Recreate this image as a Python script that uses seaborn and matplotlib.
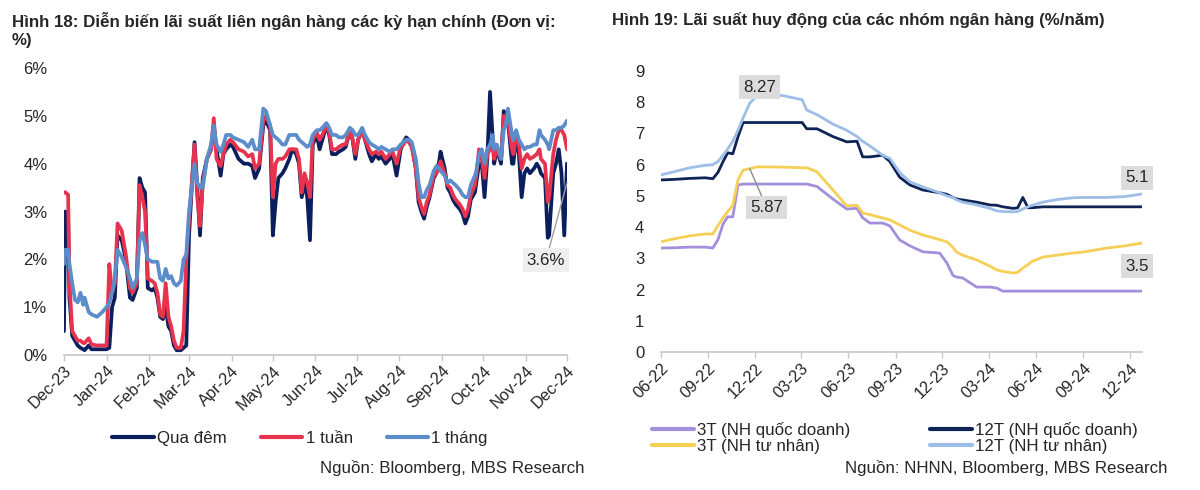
import pandas as pd
import matplotlib
matplotlib.use('Agg')
import matplotlib.pyplot as plt
from matplotlib.lines import Line2D
from matplotlib.ticker import FuncFormatter
import seaborn as sns

sns.set_theme(style='white')
plt.rcParams['font.family'] = ['Liberation Sans', 'DejaVu Sans']

# ---- Hình 18: lãi suất liên ngân hàng (ngày tính từ 13/12/2023) ----
ngay_lnh = [
    0, 1, 3, 4, 6, 8, 10, 12, 14, 15,
    18, 20, 24, 28, 31, 33, 35, 37, 39, 42,
    45, 48, 50, 53, 55, 57, 59, 61, 64, 66,
    68, 70, 72, 74, 76, 78, 80, 82, 85, 87,
    89, 91, 93, 95, 97, 99, 101, 104, 107, 109,
    111, 114, 116, 118, 121, 123, 127, 131, 134, 137,
    139, 142, 145, 147, 150, 152, 154, 156, 159, 161,
    164, 166, 169, 171, 173, 175, 177, 179, 181, 184,
    186, 188, 191, 193, 195, 198, 200, 203, 205, 208,
    210, 212, 214, 217, 219, 222, 224, 227, 229, 231,
    234, 237, 239, 242, 245, 247, 249, 251, 253, 256,
    258, 260, 262, 264, 266, 269, 271, 273, 274, 277,
    279, 281, 283, 285, 288, 290, 292, 294, 296, 299,
    300, 302, 304, 306, 308, 310, 312, 313, 315, 318,
    320, 322, 323, 326, 327, 329, 331, 333, 335, 337,
    339, 342, 344, 346, 347, 350, 352, 353, 356, 358,
    360, 362, 364, 366]

qua_dem = [
    0.5, 3.0, 2.9, 1.2, 0.4, 0.3, 0.2, 0.15, 0.12, 0.1,
    0.2, 0.12, 0.12, 0.12, 0.12, 0.15, 1.0, 1.2, 2.5, 2.4,
    2.0, 1.2, 1.15, 1.4, 3.7, 3.5, 3.4, 1.4, 1.35, 1.4,
    1.2, 0.8, 0.75, 1.0, 0.6, 0.5, 0.2, 0.1, 0.1, 0.15,
    0.2, 2.5, 3.5, 4.45, 3.5, 2.5, 3.7, 4.1, 4.3, 4.8,
    4.3, 3.75, 4.2, 4.3, 4.4, 4.35, 4.1, 4.0, 4.0, 3.95,
    3.7, 3.9, 4.8, 4.9, 4.7, 2.5, 3.2, 3.7, 3.8, 3.9,
    4.1, 4.3, 4.2, 4.0, 3.3, 3.6, 3.3, 2.4, 4.4, 4.6,
    4.3, 4.5, 4.8, 4.6, 4.2, 4.2, 4.25, 4.3, 4.35, 4.7,
    4.5, 4.1, 4.5, 4.7, 4.5, 4.2, 4.05, 4.2, 4.1, 4.15,
    4.0, 4.1, 4.2, 3.75, 4.3, 4.45, 4.55, 4.5, 4.4, 3.9,
    3.2, 3.0, 2.85, 3.1, 3.3, 3.7, 3.8, 4.05, 4.25, 3.9,
    3.5, 3.4, 3.25, 3.15, 3.05, 2.95, 2.75, 2.9, 3.25, 3.4,
    3.6, 4.0, 4.0, 3.3, 4.1, 5.5, 4.5, 4.0, 4.3, 4.0,
    5.1, 4.8, 4.9, 4.0, 4.0, 4.6, 4.2, 3.3, 3.8, 3.9,
    3.8, 3.9, 4.0, 3.9, 3.8, 3.7, 2.45, 2.5, 3.8, 4.0,
    4.3, 3.8, 2.5, 4.0]

mot_tuan = [
    3.4, 3.4, 3.35, 1.5, 0.5, 0.4, 0.3, 0.3, 0.25, 0.25,
    0.35, 0.22, 0.2, 0.2, 0.2, 1.9, 1.3, 1.5, 2.75, 2.6,
    2.1, 1.4, 1.3, 1.5, 3.55, 3.3, 3.0, 1.6, 1.55, 1.5,
    1.3, 0.85, 0.8, 1.5, 0.8, 0.6, 0.3, 0.15, 0.15, 0.5,
    2.0, 2.8, 3.6, 4.4, 3.3, 2.7, 3.6, 4.1, 4.3, 4.95,
    4.1, 3.95, 4.2, 4.4, 4.5, 4.45, 4.3, 4.25, 4.15, 4.2,
    3.9, 4.0, 4.9, 5.0, 4.8, 3.3, 4.0, 4.1, 4.1, 4.15,
    4.3, 4.3, 4.3, 4.1, 3.4, 3.8, 3.6, 3.3, 4.5, 4.65,
    4.5, 4.6, 4.8, 4.65, 4.3, 4.3, 4.35, 4.4, 4.4, 4.7,
    4.5, 4.2, 4.5, 4.7, 4.5, 4.3, 4.2, 4.25, 4.2, 4.25,
    4.1, 4.2, 4.25, 4.0, 4.35, 4.4, 4.5, 4.45, 4.35, 3.9,
    3.3, 3.1, 2.95, 3.2, 3.35, 3.75, 3.8, 3.95, 4.05, 3.8,
    3.55, 3.5, 3.35, 3.25, 3.15, 3.05, 2.9, 3.05, 3.35, 3.55,
    3.75, 4.3, 4.1, 3.7, 4.2, 4.3, 4.5, 4.1, 4.3, 4.1,
    5.0, 4.9, 4.9, 4.3, 4.2, 4.6, 4.4, 3.9, 4.1, 4.2,
    4.1, 4.15, 4.2, 4.3, 4.1, 4.0, 3.2, 3.3, 4.2, 4.5,
    4.7, 4.7, 4.6, 4.3]

mot_thang = [
    1.9, 2.2, 2.2, 1.9, 1.5, 1.15, 1.1, 1.3, 1.05, 1.2,
    0.9, 0.85, 0.8, 0.9, 1.0, 1.1, 1.3, 1.6, 2.2, 2.05,
    1.85, 1.6, 1.4, 1.6, 2.4, 2.55, 2.3, 2.0, 1.95, 1.95,
    1.95, 1.6, 1.55, 1.8, 1.6, 1.65, 1.5, 1.45, 1.55, 2.0,
    2.1, 3.0, 3.5, 4.0, 3.6, 3.5, 3.5, 4.1, 4.4, 4.8,
    4.4, 4.25, 4.4, 4.6, 4.6, 4.55, 4.5, 4.45, 4.35, 4.5,
    4.3, 4.3, 5.15, 5.1, 4.8, 4.6, 4.55, 4.5, 4.4, 4.4,
    4.6, 4.6, 4.6, 4.5, 4.45, 4.4, 4.35, 4.4, 4.6, 4.7,
    4.7, 4.75, 4.85, 4.75, 4.6, 4.6, 4.55, 4.55, 4.6, 4.75,
    4.7, 4.6, 4.6, 4.75, 4.6, 4.45, 4.4, 4.35, 4.3, 4.35,
    4.3, 4.25, 4.3, 4.3, 4.4, 4.45, 4.5, 4.5, 4.45, 4.1,
    3.6, 3.3, 3.3, 3.45, 3.55, 3.85, 3.95, 3.9, 3.85, 3.75,
    3.6, 3.65, 3.6, 3.55, 3.45, 3.35, 3.3, 3.3, 3.55, 3.75,
    3.85, 4.2, 4.3, 4.0, 4.3, 4.4, 4.6, 4.3, 4.4, 4.1,
    4.7, 4.9, 5.15, 4.6, 4.5, 4.7, 4.5, 4.4, 4.3, 4.35,
    4.35, 4.4, 4.4, 4.7, 4.6, 4.5, 4.4, 4.3, 4.7, 4.7,
    4.75, 4.75, 4.8, 4.9]

ky_han = ['Qua đêm', '1 tuần', '1 tháng']
mau_lnh = ['#0B1F5E', '#E8334F', '#5B8DCB']

# ---- Hình 19: lãi suất huy động ----
ngay_hd = [
    '2022-06-01', '2022-06-28', '2022-07-27', '2022-08-26', '2022-09-10',
    '2022-09-20', '2022-09-30', '2022-10-09', '2022-10-19', '2022-10-29',
    '2022-11-08', '2022-11-21', '2022-12-05', '2022-12-30', '2023-01-28',
    '2023-03-03', '2023-03-12', '2023-04-01', '2023-05-02', '2023-05-29',
    '2023-06-18', '2023-06-29', '2023-07-13', '2023-08-07', '2023-08-21',
    '2023-09-09', '2023-09-29', '2023-10-24', '2023-11-26', '2023-12-10',
    '2023-12-22', '2023-12-29', '2024-01-10', '2024-02-06', '2024-03-03',
    '2024-03-16', '2024-03-28', '2024-04-17', '2024-04-26', '2024-05-06',
    '2024-05-16', '2024-05-24', '2024-06-14', '2024-07-11', '2024-08-11',
    '2024-08-31', '2024-10-17', '2024-11-21', '2024-12-24']

ls_3t_qd = [
    3.33, 3.34, 3.36, 3.36, 3.33, 3.6, 4.1, 4.33, 4.33, 5.35,
    5.38, 5.38, 5.38, 5.38, 5.38, 5.38, 5.38, 5.3, 4.9, 4.58,
    4.6, 4.3, 4.13, 4.13, 4.04, 3.59, 3.4, 3.21, 3.17, 2.85,
    2.45, 2.4, 2.37, 2.08, 2.08, 2.05, 1.95, 1.95, 1.95, 1.95,
    1.95, 1.95, 1.95, 1.95, 1.95, 1.95, 1.95, 1.95, 1.95]

ls_12t_qd = [
    5.51, 5.53, 5.56, 5.58, 5.55, 5.75, 6.1, 6.38, 6.35, 6.89,
    7.35, 7.35, 7.35, 7.35, 7.35, 7.35, 7.15, 7.15, 6.9, 6.73,
    6.75, 6.25, 6.25, 6.3, 6.1, 5.6, 5.35, 5.19, 5.1, 5.05,
    4.95, 4.9, 4.87, 4.8, 4.71, 4.7, 4.65, 4.6, 4.62, 4.95,
    4.62, 4.62, 4.65, 4.65, 4.65, 4.65, 4.65, 4.65, 4.65]

ls_3t_tn = [
    3.53, 3.63, 3.72, 3.78, 3.78, 4.05, 4.3, 4.5, 4.7, 5.51,
    5.83, 5.87, 5.93, 5.93, 5.92, 5.9, 5.9, 5.77, 5.19, 4.68,
    4.7, 4.45, 4.4, 4.29, 4.23, 4.07, 3.9, 3.75, 3.6, 3.53,
    3.35, 3.2, 3.1, 2.95, 2.75, 2.63, 2.58, 2.53, 2.55, 2.69,
    2.8, 2.9, 3.04, 3.1, 3.17, 3.2, 3.33, 3.4, 3.49]

ls_12t_tn = [
    5.67, 5.78, 5.9, 5.98, 6.0, 6.1, 6.3, 6.5, 6.75, 7.1,
    7.5, 7.97, 8.2, 8.27, 8.2, 8.08, 7.75, 7.6, 7.3, 7.1,
    6.9, 6.75, 6.6, 6.3, 6.2, 5.75, 5.45, 5.29, 5.1, 5.0,
    4.95, 4.87, 4.8, 4.71, 4.6, 4.52, 4.5, 4.49, 4.5, 4.58,
    4.65, 4.7, 4.8, 4.88, 4.94, 4.95, 4.95, 4.98, 5.06]

nhom = ['3T (NH quốc doanh)', '3T (NH tư nhân)', '12T (NH quốc doanh)', '12T (NH tư nhân)']
mau_hd = ['#A48FDC', '#F6CF57', '#0E2456', '#9DBEE6']

chu = '#262626'
truc = '#C8C8C8'
co = 12.2

fig = plt.figure(figsize=(12, 4.9), dpi=100)
ax1 = fig.add_axes([0.0533, 0.2755, 0.4192, 0.5857])
ax2 = fig.add_axes([0.5508, 0.2816, 0.4008, 0.5735])

# ---------- left chart ----------
bat_dau = pd.Timestamp('2023-12-13')
df1 = pd.DataFrame({'Ngày': bat_dau + pd.to_timedelta(ngay_lnh, unit='D'),
                    'Qua đêm': qua_dem, '1 tuần': mot_tuan, '1 tháng': mot_thang})
long1 = df1.melt(id_vars='Ngày', var_name='Kỳ hạn', value_name='Lãi suất')
sns.lineplot(data=long1, x='Ngày', y='Lãi suất', hue='Kỳ hạn', hue_order=ky_han,
             palette=mau_lnh, linewidth=2.7, legend=False, ax=ax1)

ax1.set_ylim(0, 6)
ax1.set_yticks(range(7))
ax1.yaxis.set_major_formatter(FuncFormatter(lambda v, p: f'{v:.0f}%'))
ax1.set_xlim(bat_dau, bat_dau + pd.Timedelta(days=366))
moc1 = pd.date_range(bat_dau, periods=13, freq=pd.DateOffset(months=1))
ax1.set_xticks(moc1)
ax1.set_xticklabels([d.strftime('%b-%y') for d in moc1])

ax1.annotate('3.6%', xy=(df1['Ngày'].iloc[-1], 3.6), xytext=(0.455, 0.469),
             textcoords='figure fraction', ha='center', va='center', fontsize=co, color=chu,
             bbox=dict(boxstyle='square,pad=0.25', fc='#EFEFEF', ec='none'),
             arrowprops=dict(arrowstyle='-', color='#A0A0A0', lw=1, shrinkA=0, shrinkB=0))

ax1.legend(handles=[Line2D([], [], color=c, lw=3) for c in mau_lnh], labels=ky_han,
           loc='center', bbox_to_anchor=(0.25, 0.106), bbox_transform=fig.transFigure,
           ncol=3, frameon=False, fontsize=co, handlelength=2.45, handletextpad=0.2,
           columnspacing=2.0, labelcolor=chu)

# ---------- right chart ----------
df2 = pd.DataFrame({'Ngày': pd.to_datetime(ngay_hd),
                    nhom[0]: ls_3t_qd, nhom[1]: ls_3t_tn, nhom[2]: ls_12t_qd, nhom[3]: ls_12t_tn})
long2 = df2.melt(id_vars='Ngày', var_name='Nhóm', value_name='Lãi suất')
sns.lineplot(data=long2, x='Ngày', y='Lãi suất', hue='Nhóm', hue_order=nhom,
             palette=mau_hd, linewidth=2.0, legend=False, ax=ax2)

ax2.set_ylim(0, 9)
ax2.set_yticks(range(10))
ax2.set_xlim(df2['Ngày'].iloc[0], df2['Ngày'].iloc[-1])
moc2 = pd.date_range('2022-06-01', '2024-12-01', freq='3MS')
ax2.set_xticks(moc2)
ax2.set_xticklabels([d.strftime('%m-%y') for d in moc2])

hop = dict(boxstyle='square,pad=0.25', fc='#DCDCDC', ec='none')
i_max = int(df2[nhom[3]].idxmax())
ax2.annotate(f'{ls_12t_tn[i_max]:.2f}', xy=(df2['Ngày'].iloc[i_max], ls_12t_tn[i_max]),
             xytext=(0.633, 0.822), textcoords='figure fraction', ha='center', va='center',
             fontsize=co, color=chu, bbox=hop)
ax2.annotate(f'{ls_3t_tn[11]:.2f}', xy=(df2['Ngày'].iloc[11], ls_3t_tn[11]),
             xytext=(0.639, 0.576), textcoords='figure fraction', ha='center', va='center',
             fontsize=co, color=chu, bbox=hop,
             arrowprops=dict(arrowstyle='-', color='#8C8C8C', lw=1, shrinkA=0, shrinkB=0))
ax2.annotate(f'{ls_12t_tn[-1]:.1f}', xy=(df2['Ngày'].iloc[-1], ls_12t_tn[-1]),
             xytext=(0.9475, 0.637), textcoords='figure fraction', ha='center', va='center',
             fontsize=co, color=chu, bbox=hop)
ax2.annotate(f'{ls_3t_tn[-1]:.1f}', xy=(df2['Ngày'].iloc[-1], ls_3t_tn[-1]),
             xytext=(0.9475, 0.457), textcoords='figure fraction', ha='center', va='center',
             fontsize=co, color=chu, bbox=hop)

ax2.legend(handles=[Line2D([], [], color=c, lw=3) for c in mau_hd], labels=nhom,
           loc='center', bbox_to_anchor=(0.746, 0.106), bbox_transform=fig.transFigure,
           ncol=2, frameon=False, fontsize=co, handlelength=2.45, handletextpad=0.2,
           columnspacing=4.7, labelspacing=0.1, labelcolor=chu)

# ---------- common styling ----------
for ax in (ax1, ax2):
    sns.despine(ax=ax, left=True)
    ax.spines['bottom'].set_color(truc)
    ax.set_xlabel('')
    ax.set_ylabel('')
    ax.tick_params(axis='x', bottom=True, length=4, width=1, color=truc, labelsize=11.8, labelcolor=chu, pad=2)
    ax.tick_params(axis='y', left=False, labelsize=12, labelcolor=chu, pad=6)
    plt.setp(ax.get_xticklabels(), rotation=45, ha='right', rotation_mode='anchor')

fig.text(0.01, 0.975, 'Hình 18: Diễn biến lãi suất liên ngân hàng các kỳ hạn chính (Đơn vị:\n%)',
         fontsize=co, fontweight='bold', color=chu, va='top', ha='left', linespacing=1.25)
fig.text(0.51, 0.975, 'Hình 19: Lãi suất huy động của các nhóm ngân hàng (%/năm)',
         fontsize=co, fontweight='bold', color=chu, va='top', ha='left')
fig.text(0.4875, 0.045, 'Nguồn: Bloomberg, MBS Research', fontsize=co, color=chu, ha='right', va='center')
fig.text(0.973, 0.045, 'Nguồn: NHNN, Bloomberg, MBS Research', fontsize=co, color=chu, ha='right', va='center')

fig.savefig('out.png', dpi=100)
